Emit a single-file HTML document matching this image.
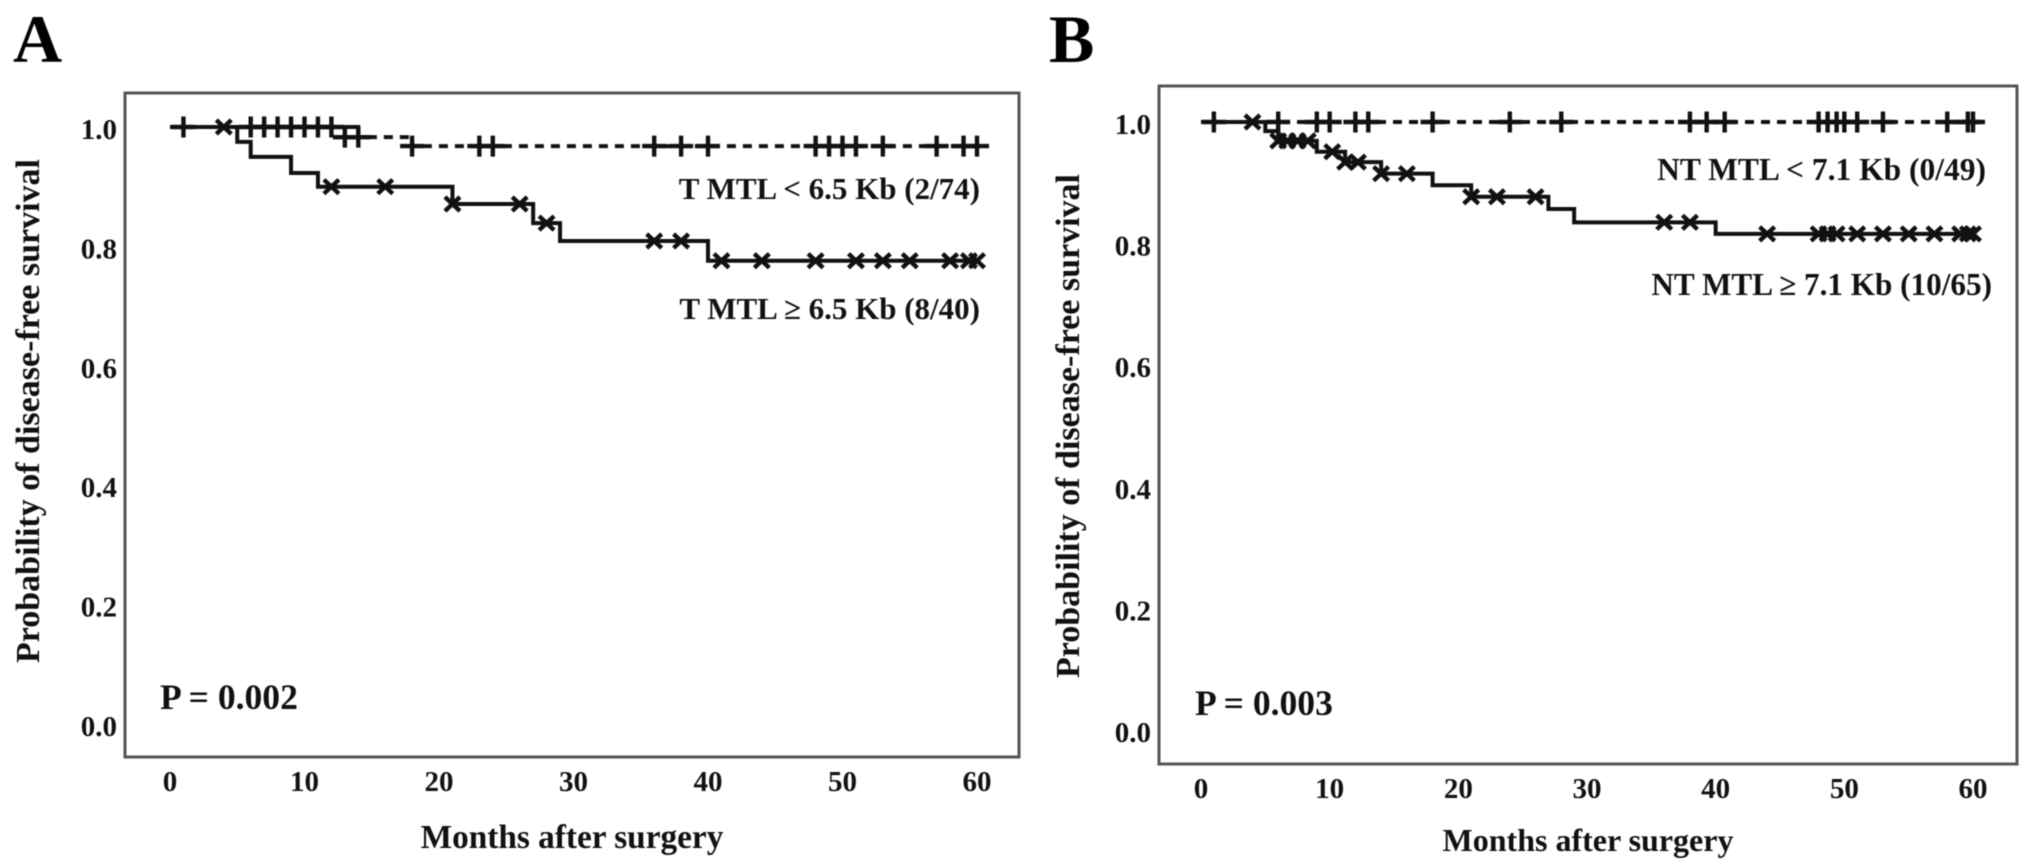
<!DOCTYPE html>
<html><head><meta charset="utf-8"><title>Disease-free survival by MTL</title>
<style>
html,body{margin:0;padding:0;background:#fff;width:2031px;height:868px;overflow:hidden}
svg{display:block;font-family:"Liberation Serif",serif;font-weight:bold;fill:#111;filter:blur(0.5px)}
</style></head>
<body>
<svg id="figure" width="2031" height="868" viewBox="0 0 2031 868" xmlns="http://www.w3.org/2000/svg">
<text x="13" y="62" font-size="68" fill="#000">A</text>
<text x="1049" y="62" font-size="68" fill="#000">B</text>
<rect x="125" y="93" width="894" height="664" fill="none" stroke="#555" stroke-width="3"/>
<rect x="1159" y="86" width="858" height="678" fill="none" stroke="#555" stroke-width="3"/>
<text transform="translate(39,411) rotate(-90)" text-anchor="middle" font-size="34">Probability of disease-free survival</text>
<text transform="translate(1079,426) rotate(-90)" text-anchor="middle" font-size="34">Probability of disease-free survival</text>
<text x="572" y="848" text-anchor="middle" font-size="33.3">Months after surgery</text>
<text x="1588" y="851" text-anchor="middle" font-size="32">Months after surgery</text>
<text x="980" y="199" text-anchor="end" font-size="31">T MTL &lt; 6.5 Kb (2/74)</text>
<text x="980" y="319" text-anchor="end" font-size="31">T MTL ≥ 6.5 Kb (8/40)</text>
<text x="1986" y="180" text-anchor="end" font-size="31.5">NT MTL &lt; 7.1 Kb (0/49)</text>
<text x="1992" y="295" text-anchor="end" font-size="31.2">NT MTL ≥ 7.1 Kb (10/65)</text>
<text x="160" y="709" font-size="35.6">P = 0.002</text>
<text x="1195" y="715" font-size="35.6">P = 0.003</text>
<g id="plot-layer"></g>
</svg>
<script>
const xTickLabels = [0, 10, 20, 30, 40, 50, 60];
const yTickLabels = [0.0, 0.2, 0.4, 0.6, 0.8, 1.0];

const aLowStepMonths = [13, 18];
const aLowStepSurvival = [0.983, 0.968];
const aLowUnbrokenUntilMonth = 14;
const aLowCensorMonths = [1, 6, 7, 8, 9, 10, 11, 12, 13, 14, 18, 23, 24, 36, 38, 40, 48, 49, 50, 51, 53, 57, 59, 60];
const aHighStepMonths = [5, 6, 9, 11, 21, 27, 29, 40];
const aHighStepSurvival = [0.975, 0.95, 0.923, 0.9, 0.871, 0.839, 0.809, 0.776];
const aHighCensorMonths = [4, 12, 16, 21, 26, 28, 36, 38, 41, 44, 48, 51, 53, 55, 58, 59.4, 60];

const bLowStepMonths = [];
const bLowStepSurvival = [];
const bLowUnbrokenUntilMonth = 6;
const bLowCensorMonths = [1, 6, 9, 10, 12, 13, 18, 24, 28, 38, 39.3, 40.7, 48, 48.7, 49.4, 50, 51, 53, 58, 59.6, 60];
const bHighStepMonths = [5, 6, 9, 11.2, 14, 18, 21, 27, 29, 40];
const bHighStepSurvival = [0.985, 0.969, 0.951, 0.934, 0.915, 0.896, 0.877, 0.857, 0.835, 0.816];
const bHighCensorMonths = [4, 6, 6.7, 7.5, 8.3, 10.2, 11.2, 12.2, 14, 16, 21, 23, 26, 36, 38, 44, 48, 48.7, 49.4, 51, 53, 55, 57, 59, 59.6, 60];

const svgNS = 'http://www.w3.org/2000/svg';
const layer = document.getElementById('plot-layer');

function make(tag, attrs, parent) {
  const node = document.createElementNS(svgNS, tag);
  for (const key in attrs) node.setAttribute(key, attrs[key]);
  parent.appendChild(node);
  return node;
}
function linearScale(d0, d1, r0, r1) {
  return v => r0 + (v - d0) * (r1 - r0) / (d1 - d0);
}
function survivalAt(month, stepMonths, stepSurvival) {
  let s = 1;
  for (let i = 0; i < stepMonths.length; i++) if (month >= stepMonths[i]) s = stepSurvival[i];
  return s;
}
function stepPath(stepMonths, stepSurvival, x, y) {
  let d = 'M' + x(0) + ' ' + y(1);
  for (let i = 0; i < stepMonths.length; i++) {
    d += 'H' + x(stepMonths[i]) + 'V' + y(stepSurvival[i]);
  }
  return d + 'H' + x(60);
}
function drawMark(group, kind, px, py) {
  const d = kind === 'plus'
    ? 'M' + (px - 12) + ' ' + py + 'H' + (px + 12) + 'M' + px + ' ' + (py - 10.5) + 'V' + (py + 10.5)
    : 'M' + (px - 7.5) + ' ' + (py - 7) + 'L' + (px + 7.5) + ' ' + (py + 7) + 'M' + (px + 7.5) + ' ' + (py - 7) + 'L' + (px - 7.5) + ' ' + (py + 7);
  return make('path', { d: d, fill: 'none', stroke: '#111', 'stroke-width': 4.4 }, group);
}
function drawPanel(prefix, x, y, xTickY, yTickX, low, high) {
  const panel = make('g', {}, layer);
  
  

  xTickLabels.forEach(v => {
    const t = make('text', { x: x(v), y: xTickY, 'text-anchor': 'middle', 'font-size': 29 }, panel);
    t.textContent = String(v);
    
    
  });
  yTickLabels.forEach(v => {
    const t = make('text', { x: yTickX, y: y(v) + 12, 'text-anchor': 'end', 'font-size': 29 }, panel);
    t.textContent = v.toFixed(1);
    
    
  });

  const lowLine = make('path', { d: stepPath(low.months, low.survival, x, y), fill: 'none', stroke: '#111', 'stroke-width': 4, 'stroke-dasharray': '9 7' }, panel);
  
  

  const lowStart = make('path', { d: 'M' + x(0) + ' ' + y(1) + 'H' + x(low.unbrokenUntil) + 'V' + y(survivalAt(low.unbrokenUntil, low.months, low.survival)), fill: 'none', stroke: '#111', 'stroke-width': 4 }, panel);
  
  

  const highLine = make('path', { d: stepPath(high.months, high.survival, x, y), fill: 'none', stroke: '#111', 'stroke-width': 4 }, panel);
  
  

  low.censor.forEach(m => {
    const mark = drawMark(panel, 'plus', x(m), y(survivalAt(m, low.months, low.survival)));
    
    
  });
  high.censor.forEach(m => {
    const mark = drawMark(panel, 'cross', x(m), y(survivalAt(m, high.months, high.survival)));
    
    
  });
}

drawPanel('panel-a', linearScale(0, 60, 170, 977), linearScale(0, 1, 724, 127), 791, 117,
  { months: aLowStepMonths, survival: aLowStepSurvival, censor: aLowCensorMonths, unbrokenUntil: aLowUnbrokenUntilMonth },
  { months: aHighStepMonths, survival: aHighStepSurvival, censor: aHighCensorMonths });
drawPanel('panel-b', linearScale(0, 60, 1201, 1973), linearScale(0, 1, 730, 122), 798, 1151,
  { months: bLowStepMonths, survival: bLowStepSurvival, censor: bLowCensorMonths, unbrokenUntil: bLowUnbrokenUntilMonth },
  { months: bHighStepMonths, survival: bHighStepSurvival, censor: bHighCensorMonths });
</script>
</body></html>
